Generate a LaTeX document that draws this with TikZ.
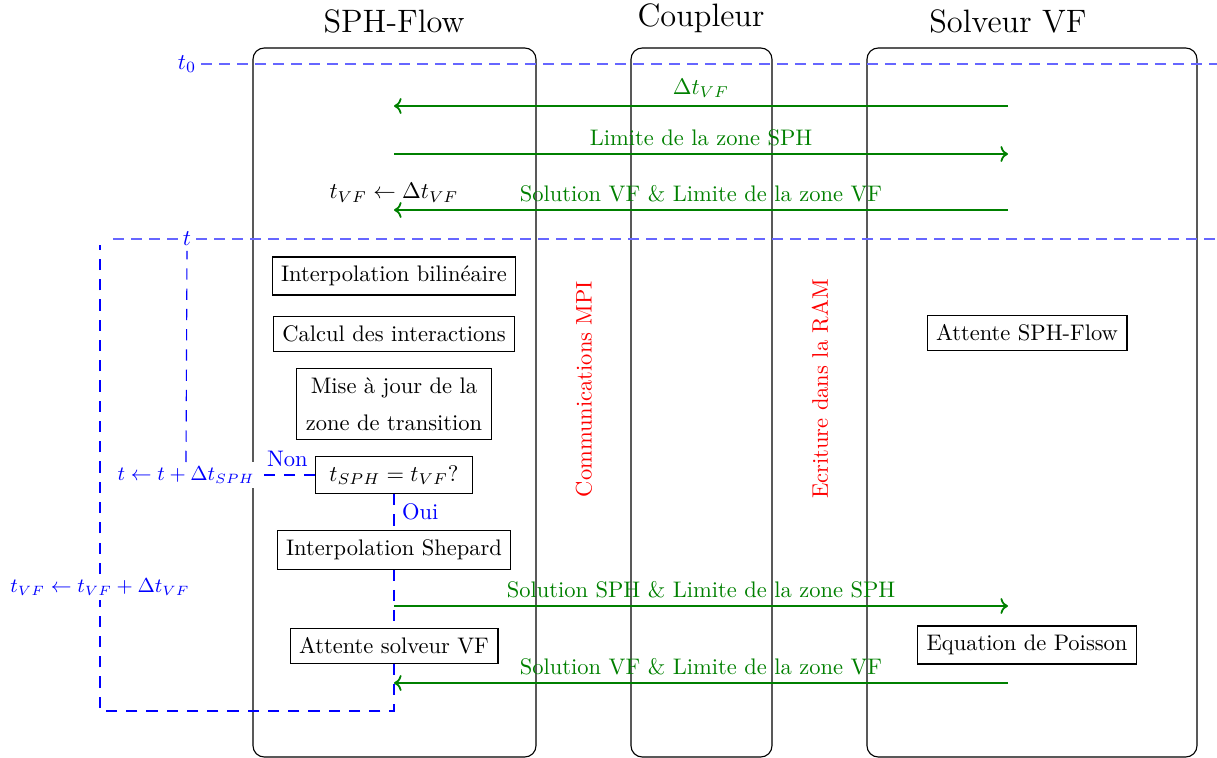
\documentclass[tikz,border=0pt]{standalone}
\usepackage{amsmath,amssymb}
\usepackage{xcolor}
\usetikzlibrary{arrows.meta, positioning}
\tikzset{
  lane/.style={draw=black, line width=0.5pt, rounded corners=5pt},
  lanetitle/.style={anchor=south, font=\Large},
  task/.style={rectangle, draw=black, line width=0.5pt, fill=white, inner sep=4pt, align=center},
  timeline/.style={blue!60, thick, dash pattern=on 5pt off 3pt},
  timelabel/.style={text=blue, inner sep=2pt},
  loopline/.style={blue, line width=0.5pt, dash pattern=on 5pt off 4pt},
  looplabel/.style={text=blue, font=\small, fill=white, inner sep=2pt},
  msg/.style={->, thick, green!50!black},
  msglabel/.style={above, text=green!50!black},
  channel/.style={rotate=90, text=red},
}

\begin{document}
\begin{tikzpicture}[x=0.4444pt, y=-0.4444pt]
  \useasboundingbox (0,0) rectangle (1217,758);

  % colonnes
  \draw[lane] (253,48) rectangle (536,757);
  \draw[lane] (631,48) rectangle (772,757);
  \draw[lane] (867,48) rectangle (1197,757);
  \node[lanetitle] (sphtitle) at (394,41) {SPH-Flow};
  \node[lanetitle] (cpltitle) at (701,41) {Coupleur};
  \node[lanetitle] (vftitle) at (1008,41) {Solveur VF};

  % pas de temps
  \node[timelabel] (t0) at (187,64) {$t_0$};
  \node[timelabel] (t) at (187,239) {$t$};
  \draw[timeline] (t0.east) -- (1217,64);
  \draw[timeline] (t.east) -- (1217,239);
  \draw[timeline] (t.west) -- (106,239);

  % points des messages
  \coordinate (s1) at (394,106);  \coordinate (v1) at (1008,106);
  \coordinate (s2) at (394,154);  \coordinate (v2) at (1008,154);
  \coordinate (s3) at (394,210);  \coordinate (v3) at (1008,210);
  \coordinate (s4) at (394,606);  \coordinate (v4) at (1008,606);
  \coordinate (s5) at (394,683);  \coordinate (v5) at (1008,683);
  \coordinate (loopbot) at (394,711);
  \coordinate (looptop) at (100,245);

  % taches SPH-Flow
  \node[task] (bilin) at (394,276) {Interpolation bilinéaire};
  \node[task] (interact) at (394,334) {Calcul des interactions};
  \node[task] (transition) at (394,404) {Mise à jour de la\\[4.4pt]zone de transition};
  \node[task, inner xsep=6pt] (check) at (394,475) {$t_{SPH} = t_{VF}$?};
  \node[task] (shepard) at (394,550) {Interpolation Shepard};
  \node[task] (waitvf) at (394,646) {Attente solveur VF};

  % taches solveur VF
  \node[task] (waitsph) at (1027,333) {Attente SPH-Flow};
  \node[task] (poisson) at (1027,645) {Equation de Poisson};

  % canaux
  \node[channel] (mpi) at (584,389) {Communications MPI};
  \node[channel] (ram) at (820,389) {Ecriture dans la RAM};

  % boucles
  \node[looplabel] (tsph) at (186,475) {$t \leftarrow t + \Delta t_{SPH}$};
  \node[looplabel] (tvf) at (100,587) {$t_{VF} \leftarrow t_{VF} + \Delta t_{VF}$};
  \draw[loopline] (check.west) -- node[above, text=blue] {Non} (tsph.east);
  \draw[loopline] (tsph.north) -- (t.south);
  \draw[loopline] (check.south) -- node[right, text=blue] {Oui} (shepard.north);
  \draw[loopline] (shepard.south) -- (waitvf.north);
  \draw[loopline] (waitvf.south) -- (loopbot) -| (tvf.south);
  \draw[loopline] (tvf.north) -- (looptop);

  % messages
  \draw[msg] (v1) -- node[msglabel] {$\Delta t_{VF}$} (s1);
  \draw[msg] (s2) -- node[msglabel] {Limite de la zone SPH} (v2);
  \draw[msg] (v3) -- node[msglabel] {Solution VF \& Limite de la zone VF} (s3);
  \node[above] (tvfinit) at (s3) {$t_{VF} \leftarrow \Delta t_{VF}$};
  \draw[msg] (s4) -- node[msglabel] {Solution SPH \& Limite de la zone SPH} (v4);
  \draw[msg] (v5) -- node[msglabel] {Solution VF \& Limite de la zone VF} (s5);
\end{tikzpicture}
\end{document}
